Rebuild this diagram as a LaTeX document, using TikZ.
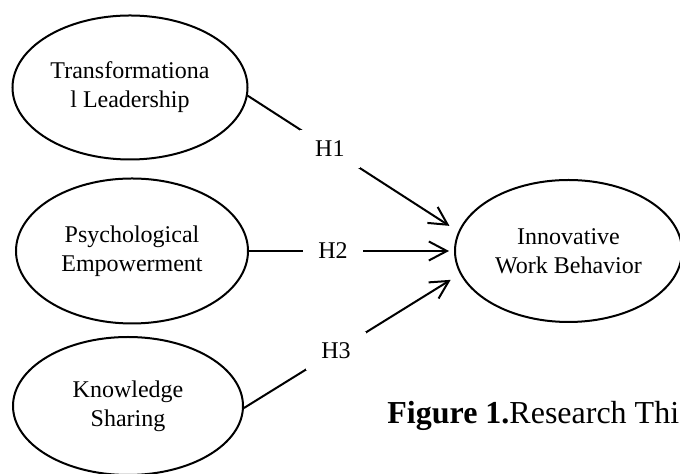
\documentclass[tikz,border=0pt]{standalone}
\usepackage{fontspec}
\setmainfont{Liberation Serif}
\usetikzlibrary{shapes.geometric,arrows.meta}
\begin{document}
\begin{tikzpicture}[x=0.5pt,y=-0.5pt,
  construct/.style={ellipse, draw, line width=1pt, inner sep=0pt, align=center,
    font=\fontsize{12}{14.5}\selectfont},
  hypo/.style={fill=white, inner xsep=7.5pt, inner ysep=0pt, minimum height=19pt,
    font=\fontsize{12}{14.5}\selectfont},
  link/.style={line width=1pt, -{Straight Barb[length=9pt,width=9.5pt]}}
]
\useasboundingbox (0,0) rectangle (680,474);

% latent constructs
\node[construct, minimum width=117.5pt, minimum height=72pt] (tl) at (130,87.5)
  {Transformationa\\l Leadership};
\node[construct, minimum width=116pt, minimum height=72.5pt] (pe) at (132,251)
  {Psychological\\Empowerment};
\node[construct, minimum width=115pt, minimum height=69pt] (ks) at (128,406)
  {Knowledge\\Sharing};
\node[construct, minimum width=113.5pt, minimum height=71pt] (iwb) at (568.5,251)
  {Innovative\\Work Behavior};

% hypothesised paths
\draw[link, shorten >=5.25pt] (tl.-4) -- node[hypo, pos=0.39] (h1) {H1} (iwb.170.5);
\draw[link, shorten >=2.5pt] (pe.east) -- node[hypo, pos=0.41] (h2) {H2} (iwb.west);
\draw[link, shorten >=5.5pt] (ks.-1) -- node[hypo, pos=0.426] (h3) {H3} (iwb.192.3);

% caption
\node[anchor=base west, inner sep=0pt, font=\fontsize{16}{19}\selectfont] (cap) at (387,424)
  {\textbf{Figure 1.}Research Thi};
\end{tikzpicture}
\end{document}
